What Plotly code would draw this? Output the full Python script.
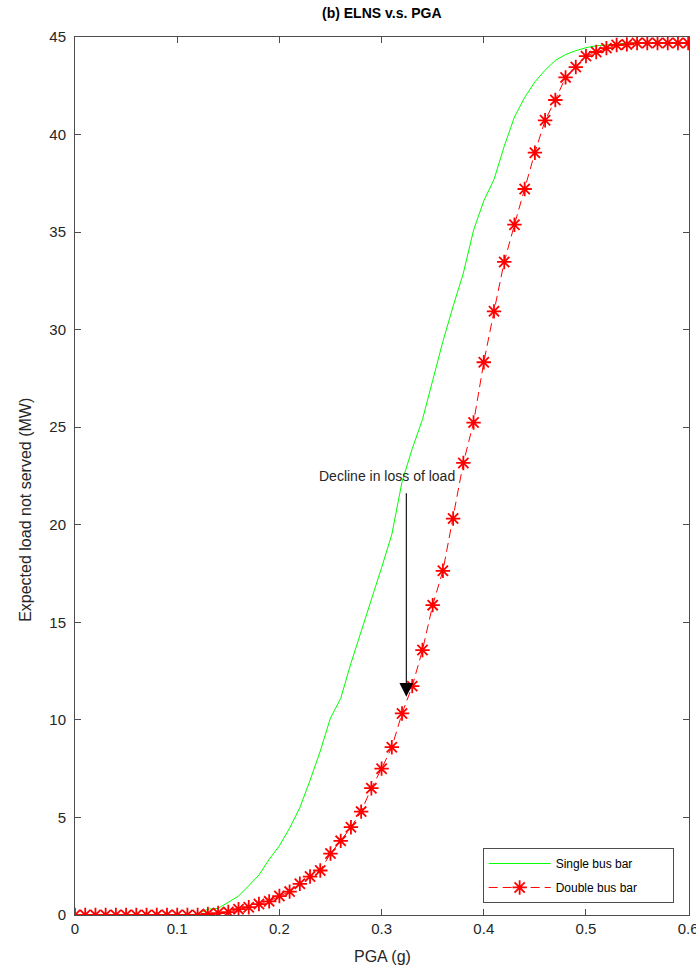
import plotly.graph_objects as go

# PGA levels (g)
pga = [round(0.01 * i, 2) for i in range(61)]

# Expected load not served (MW) - single bus bar configuration
single_bus = [0, 0, 0, 0, 0, 0, 0, 0, 0, 0, 0, 0,
              0.05, 0.3, 0.34, 0.65, 0.97, 1.5, 2.05, 2.85, 3.55,
              4.45, 5.5, 6.9, 8.4, 10.1, 11.1, 12.9, 14.5, 16.2, 17.8,
              19.5, 22.2, 23.9, 25.4, 27.4, 29.4, 31.2, 32.9, 35.1, 36.6,
              37.7, 39.4, 40.9, 41.9, 42.7, 43.3, 43.8, 44.1, 44.3, 44.45,
              44.55, 44.6, 44.65, 44.68, 44.7, 44.7, 44.7, 44.7, 44.7, 44.7]

# Expected load not served (MW) - double bus bar configuration
double_bus = [0, 0, 0, 0, 0, 0, 0, 0, 0, 0, 0, 0, 0,
              0.05, 0.1, 0.15, 0.3, 0.4, 0.56, 0.7, 0.97,
              1.2, 1.6, 1.97, 2.28, 3.15, 3.8, 4.5, 5.3, 6.5, 7.5,
              8.6, 10.33, 11.73, 13.58, 15.88, 17.64, 20.32, 23.17, 25.24, 28.33,
              30.94, 33.47, 35.38, 37.21, 39.07, 40.73, 41.77, 42.93, 43.46, 44.02,
              44.23, 44.43, 44.59, 44.62, 44.69, 44.69, 44.69, 44.69, 44.69, 44.69]

x_ticks = [0, 0.1, 0.2, 0.3, 0.4, 0.5, 0.6]
y_ticks = [0, 5, 10, 15, 20, 25, 30, 35, 40, 45]

# Arrow from the label down to the double-bus curve
arrow_x = 0.3242
arrow_from = 21.69
arrow_to = 11.18
label_x, label_y = 0.3055, 22.49

FONT = "Liberation Sans, Arial, sans-serif"
AXIS_COLOR = "#4d4d4d"
TEXT_COLOR = "#262626"
PAD = "\u00a0" * 9

fig = go.Figure()

fig.add_trace(go.Scatter(
    x=pga, y=single_bus, mode="lines", name="Single bus bar" + PAD,
    line=dict(color="#00ff00", width=1), legendgroup="a",
))
fig.add_trace(go.Scatter(
    x=pga, y=double_bus, mode="lines+markers", name="Double bus bar" + PAD,
    line=dict(color="#ff0000", width=1, dash="9px,5px"),
    marker=dict(symbol="asterisk-open", size=12, color="#ff0000",
                line=dict(color="#ff0000", width=1.8)),
    legendgroup="b",
))

fig.add_annotation(
    x=arrow_x, y=arrow_to, ax=arrow_x, ay=arrow_from,
    xref="x", yref="y", axref="x", ayref="y",
    text="", showarrow=True, arrowhead=2, arrowsize=2.5, arrowwidth=1.1,
    arrowcolor="#000000",
)
fig.add_annotation(
    x=label_x, y=label_y, xref="x", yref="y",
    text="Decline in loss of load", showarrow=False,
    font=dict(family=FONT, size=14, color=TEXT_COLOR),
)

# Title and axis labels
fig.add_annotation(
    x=0.5, y=1.0273, xref="paper", yref="paper", showarrow=False,
    xanchor="center", yanchor="middle",
    text="<b>(b) ELNS v.s. PGA</b>",
    font=dict(family=FONT, size=14, color="#000000"),
)
fig.add_annotation(
    x=0.5, y=-0.0467, xref="paper", yref="paper", showarrow=False,
    xanchor="center", yanchor="middle", text="PGA (g)",
    font=dict(family=FONT, size=16, color=TEXT_COLOR),
)
fig.add_annotation(
    x=-0.080, y=0.4613, xref="paper", yref="paper", showarrow=False,
    xanchor="center", yanchor="middle", textangle=-90,
    text="Expected load not served (MW)",
    font=dict(family=FONT, size=16, color=TEXT_COLOR),
)

axis_common = dict(
    showline=True, linecolor=AXIS_COLOR, linewidth=1, mirror="ticks",
    ticks="inside", ticklen=6, tickcolor=AXIS_COLOR, tickwidth=1,
    showgrid=False, zeroline=False, automargin=False,
    tickfont=dict(family=FONT, size=15, color=TEXT_COLOR),
    ticklabeloverflow="allow",
)

fig.update_xaxes(
    range=[0, 0.6008], tickvals=x_ticks, ticktext=[str(v) for v in x_ticks],
    **axis_common,
)
fig.update_yaxes(range=[0, 45], tickvals=y_ticks, ticklabelstandoff=5,
                 **axis_common)

fig.update_layout(
    width=696, height=969,
    margin=dict(l=75, r=7, t=37, b=54, autoexpand=False),
    paper_bgcolor="white", plot_bgcolor="white",
    legend=dict(x=0.975, y=0.0137, xanchor="right", yanchor="bottom",
                bgcolor="white", bordercolor=AXIS_COLOR, borderwidth=1,
                font=dict(family=FONT, size=12, color="#000000"),
                itemwidth=62, tracegroupgap=5),
    showlegend=True,
)

fig.write_html("out.html")
